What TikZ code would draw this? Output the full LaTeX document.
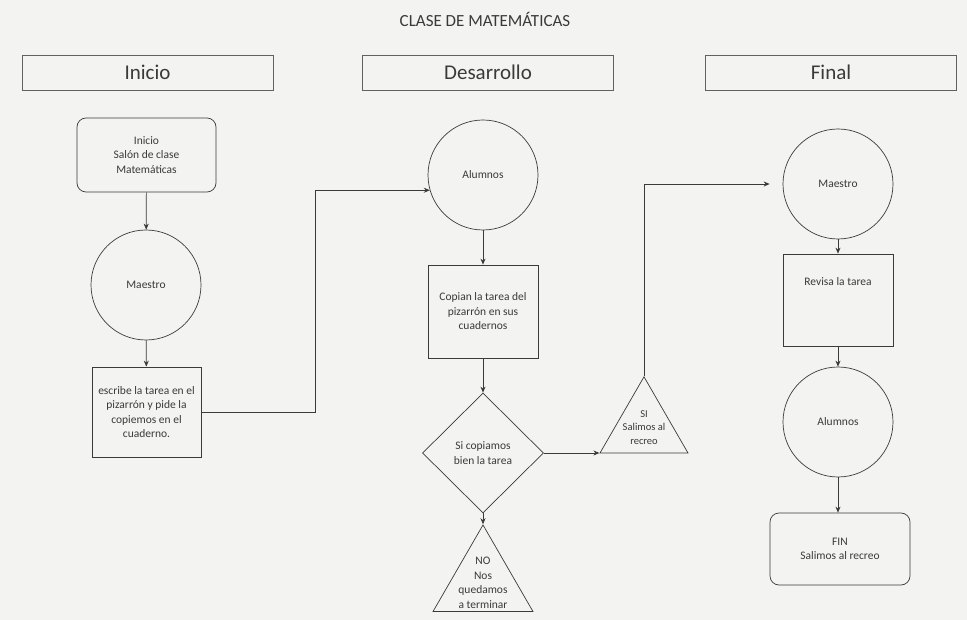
\documentclass[tikz,border=0pt]{standalone}
\usepackage{fontspec}
\setmainfont{Carlito}
\usetikzlibrary{shapes.geometric,arrows.meta}
\definecolor{ink}{HTML}{3A3A3A}
\definecolor{paper}{HTML}{F3F3F1}
\tikzset{
  every node/.style={text=ink},
  small/.style={font=\fontsize{11.5}{14.5}\selectfont, align=center},
  header/.style={draw=ink!80, line width=0.6pt, minimum width=251, minimum height=35, inner sep=0, font=\fontsize{21}{23}\selectfont},
  boxnode/.style={draw=ink, line width=0.7pt, small, inner sep=0},
  roundbox/.style={boxnode, rounded corners=9pt, minimum width=139, minimum height=74},
  rectbox/.style={boxnode, minimum width=110, minimum height=92},
  circ/.style={boxnode, circle, minimum size=110},
  decision/.style={boxnode, diamond, minimum width=121, minimum height=120},
  tri/.style={draw=ink, line width=0.7pt, regular polygon, regular polygon sides=3, inner sep=0},
  arr/.style={draw=ink, line width=0.7pt, -{Stealth[length=6pt,width=5pt]}},
}
\begin{document}
\begin{tikzpicture}[x=1pt,y=-1pt]
\fill[paper] (0,0) rectangle (967,620);
\useasboundingbox (0,0) rectangle (967,620);
\node[font=\fontsize{17}{19}\selectfont] (title) at (485,19) {CLASE DE MATEMÁTICAS};
\node[header] (h1) at (147.5,72.5) {Inicio};
\node[header] (h2) at (488,72.5) {Desarrollo};
\node[header] (h3) at (831,72.5) {Final};
% Inicio column
\node[roundbox] (start) at (146.5,155) {Inicio\\Salón de clase\\Matemáticas};
\node[circ] (m1) at (146,285) {Maestro};
\node[rectbox, minimum width=109, minimum height=90] (r1) at (146.5,412) {escribe la tarea en el\\pizarrón y pide la\\copiemos en el\\cuaderno.};
% Desarrollo column
\node[circ] (a1) at (483,175) {Alumnos};
\node[rectbox, minimum height=93] (r2) at (483,311.5) {Copian la tarea del\\pizarrón en sus\\cuadernos};
\node[decision] (d1) at (483,453) {Si copiamos\\bien la tarea};
\node[tri, minimum size=115.5] (no) at (483,582.7) {};
\node[small] (notext) at (no.center) {NO\\Nos\\quedamos\\a terminar};
\node[tri, minimum size=101.6] (si) at (644,427.6) {};
\node[small, font=\fontsize{10.5}{13.5}\selectfont] (sitext) at (si.center) {SI\\Salimos al\\recreo};
% Final column
\node[circ] (m2) at (838,184) {Maestro};
\node[rectbox] (r3) at (838,300) {Revisa la tarea\\[22pt]};
\node[circ] (a3) at (838,422) {Alumnos};
\node[roundbox, minimum width=140, minimum height=72] (fin) at (840,549) {FIN\\Salimos al recreo};
% connectors
\draw[arr] (start) -- (m1);
\draw[arr] (m1) -- (r1);
\draw[arr] (r1.east) -- ++(114,0) |- (a1.196);
\draw[arr] (a1) -- (r2);
\draw[arr] (r2) -- (d1);
\draw[arr] (d1.south) -- (no.corner 1);
\draw[arr] (d1.east) -- (d1.east -| si.corner 2);
\draw[arr, shorten >=13pt] (si.corner 1) |- (m2.west);
\draw[arr] (m2) -- (r3);
\draw[arr] (r3) -- (a3);
\draw[arr] (a3.south) -- (a3.south |- fin.north);
\end{tikzpicture}
\end{document}
